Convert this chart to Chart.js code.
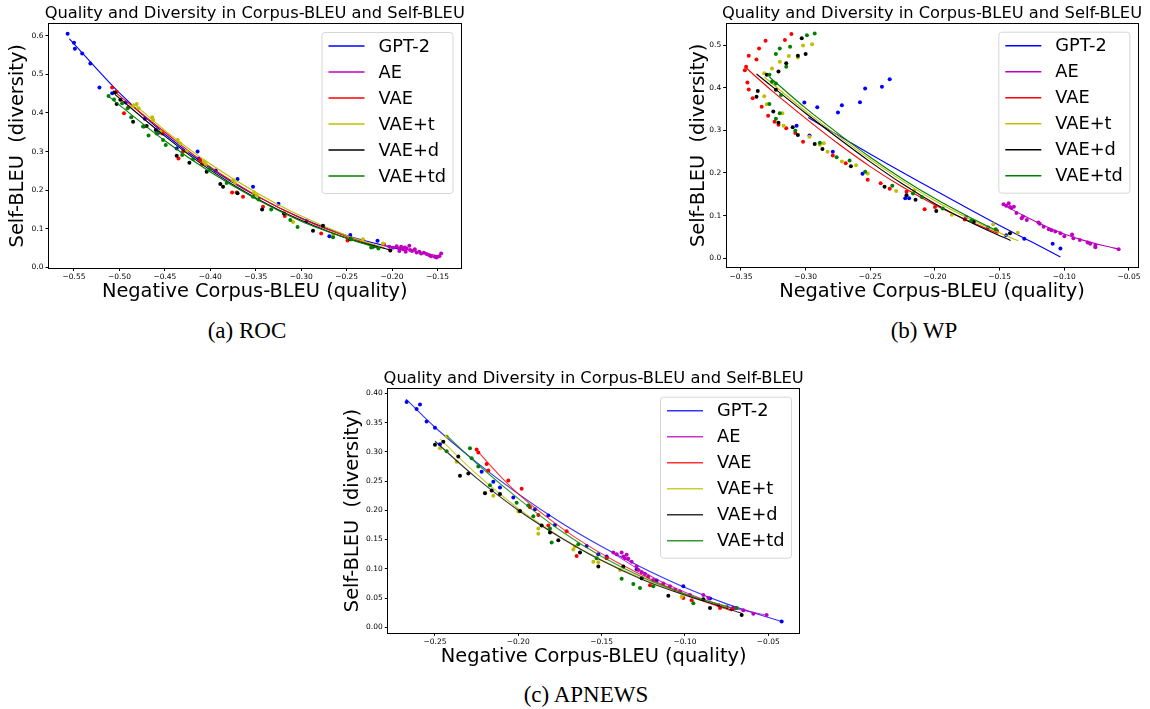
<!DOCTYPE html>
<html lang="en">
<head>
<meta charset="UTF-8">
<title>Quality and Diversity in Corpus-BLEU and Self-BLEU</title>
<script src="https://cdn.jsdelivr.net/npm/chart.js@4.4.0/dist/chart.umd.min.js"></script>
<style>
  body { margin: 0; width: 1150px; height: 709px; background: #fff; position: relative; overflow: hidden; }
  .panel { position: absolute; }
  .panel canvas { display: block; }
  .cap { position: absolute; font-family: "Liberation Serif", "Times New Roman", serif; font-size: 23px;
         line-height: 23px; transform: translateX(-50%); white-space: nowrap; color: #000; }
</style>
</head>
<body>
<div class="panel" style="left:0;top:0"><canvas id="rocChart" width="470" height="310"></canvas></div>
<div class="panel" style="left:680px;top:0"><canvas id="wpChart" width="465" height="310"></canvas></div>
<div class="panel" style="left:320px;top:360px"><canvas id="apChart" width="490" height="320"></canvas></div>
<div class="cap" style="left:247px;top:319px">(a) ROC</div>
<div class="cap" style="left:924px;top:319px">(b) WP</div>
<div class="cap" style="left:586px;top:683px">(c) APNEWS</div>
<script>
// series + labels
var seriesNames = ['GPT-2', 'AE', 'VAE', 'VAE+t', 'VAE+d', 'VAE+td'];
var seriesColors = ['#0000ff', '#bf00bf', '#ff0000', '#bfbf00', '#000000', '#008000'];
var chartTitle = 'Quality and Diversity in Corpus-BLEU and Self-BLEU';
var xLabel = 'Negative Corpus-BLEU (quality)';
var yLabel = 'Self-BLEU  (diversity)';

// ---- (a) ROC ----
var rocXTicks = [-0.55, -0.50, -0.45, -0.40, -0.35, -0.30, -0.25, -0.20, -0.15];
var rocYTicks = [0.0, 0.1, 0.2, 0.3, 0.4, 0.5, 0.6];
var rocGpt2 = [[-0.557,0.605],[-0.550,0.582],[-0.549,0.566],[-0.541,0.554],[-0.532,0.528],[-0.522,0.466],[-0.508,0.451],[-0.493,0.427],[-0.472,0.385],[-0.457,0.349],[-0.437,0.308],[-0.414,0.300],[-0.413,0.282],[-0.394,0.251],[-0.370,0.229],[-0.353,0.209],[-0.325,0.165],[-0.294,0.120],[-0.269,0.081],[-0.246,0.084],[-0.216,0.069]];
var rocGpt2Fit = [[-0.555,0.592],[-0.50,0.452],[-0.45,0.345],[-0.40,0.257],[-0.35,0.186],[-0.30,0.128],[-0.25,0.083],[-0.20,0.052],[-0.185,0.044]];
var rocAe = [[-0.203,0.054],[-0.199,0.051],[-0.195,0.055],[-0.192,0.049],[-0.190,0.054],[-0.188,0.047],[-0.186,0.052],[-0.184,0.049],[-0.181,0.056],[-0.180,0.045],[-0.178,0.043],[-0.175,0.047],[-0.173,0.039],[-0.170,0.041],[-0.168,0.036],[-0.165,0.038],[-0.162,0.035],[-0.159,0.032],[-0.157,0.029],[-0.153,0.028],[-0.151,0.026],[-0.148,0.029],[-0.146,0.036],[-0.192,0.043],[-0.185,0.041]];
var rocAeFit = [[-0.205,0.056],[-0.19,0.050],[-0.175,0.042],[-0.16,0.035],[-0.146,0.029]];
var rocVae = [[-0.508,0.466],[-0.503,0.455],[-0.495,0.399],[-0.490,0.415],[-0.473,0.365],[-0.453,0.347],[-0.435,0.282],[-0.430,0.300],[-0.411,0.278],[-0.409,0.268],[-0.376,0.194],[-0.371,0.194],[-0.364,0.183],[-0.342,0.157],[-0.318,0.133],[-0.278,0.088],[-0.249,0.070],[-0.209,0.060]];
var rocVaeFit = [[-0.507,0.458],[-0.45,0.350],[-0.40,0.260],[-0.35,0.187],[-0.30,0.127],[-0.25,0.080],[-0.208,0.050]];
var rocVaeT = [[-0.485,0.418],[-0.481,0.423],[-0.479,0.412],[-0.464,0.389],[-0.463,0.382],[-0.455,0.352],[-0.436,0.330],[-0.433,0.321],[-0.426,0.300],[-0.407,0.274],[-0.405,0.268],[-0.375,0.226],[-0.373,0.219],[-0.352,0.194],[-0.349,0.187],[-0.309,0.118],[-0.265,0.084],[-0.232,0.073],[-0.210,0.062]];
var rocVaeTFit = [[-0.485,0.425],[-0.45,0.355],[-0.40,0.268],[-0.35,0.195],[-0.30,0.133],[-0.25,0.083],[-0.21,0.052]];
var rocVaeD = [[-0.505,0.453],[-0.503,0.423],[-0.499,0.434],[-0.485,0.377],[-0.470,0.366],[-0.460,0.356],[-0.437,0.289],[-0.423,0.271],[-0.404,0.248],[-0.389,0.216],[-0.386,0.209],[-0.370,0.192],[-0.343,0.150],[-0.319,0.140],[-0.287,0.095],[-0.276,0.108],[-0.246,0.073],[-0.221,0.054],[-0.202,0.044]];
var rocVaeDFit = [[-0.505,0.448],[-0.45,0.340],[-0.40,0.252],[-0.35,0.180],[-0.30,0.122],[-0.25,0.076],[-0.20,0.044]];
var rocVaeTd = [[-0.512,0.444],[-0.506,0.435],[-0.497,0.425],[-0.491,0.412],[-0.487,0.389],[-0.474,0.365],[-0.468,0.342],[-0.459,0.347],[-0.452,0.330],[-0.449,0.317],[-0.431,0.291],[-0.419,0.280],[-0.400,0.254],[-0.382,0.219],[-0.353,0.183],[-0.347,0.176],[-0.333,0.150],[-0.312,0.123],[-0.304,0.105],[-0.265,0.078],[-0.245,0.073],[-0.223,0.052],[-0.215,0.049]];
var rocVaeTdFit = [[-0.512,0.443],[-0.45,0.328],[-0.40,0.247],[-0.35,0.178],[-0.30,0.120],[-0.25,0.076],[-0.215,0.050]];

// ---- (b) WP ----
var wpXTicks = [-0.35, -0.30, -0.25, -0.20, -0.15, -0.10, -0.05];
var wpYTicks = [0.0, 0.1, 0.2, 0.3, 0.4, 0.5];
var wpGpt2 = [[-0.307,0.311],[-0.301,0.365],[-0.291,0.354],[-0.275,0.342],[-0.272,0.359],[-0.258,0.366],[-0.254,0.398],[-0.241,0.402],[-0.235,0.420],[-0.297,0.288],[-0.279,0.250],[-0.256,0.198],[-0.223,0.141],[-0.220,0.141],[-0.176,0.097],[-0.159,0.072],[-0.145,0.054],[-0.131,0.046],[-0.109,0.034],[-0.103,0.023]];
var wpGpt2Fit = [[-0.298,0.330],[-0.27,0.280],[-0.24,0.227],[-0.21,0.176],[-0.18,0.126],[-0.15,0.077],[-0.125,0.038],[-0.103,0.003]];
var wpAe = [[-0.147,0.127],[-0.145,0.123],[-0.143,0.129],[-0.142,0.120],[-0.141,0.118],[-0.139,0.121],[-0.137,0.106],[-0.133,0.094],[-0.132,0.098],[-0.129,0.090],[-0.120,0.084],[-0.119,0.081],[-0.116,0.074],[-0.112,0.068],[-0.110,0.066],[-0.107,0.063],[-0.103,0.059],[-0.100,0.052],[-0.094,0.056],[-0.093,0.047],[-0.088,0.043],[-0.082,0.037],[-0.080,0.034],[-0.076,0.030],[-0.076,0.026],[-0.058,0.021]];
var wpAeFit = [[-0.147,0.125],[-0.13,0.098],[-0.115,0.076],[-0.10,0.057],[-0.085,0.042],[-0.07,0.030],[-0.057,0.021]];
var wpVae = [[-0.347,0.441],[-0.346,0.449],[-0.344,0.475],[-0.336,0.492],[-0.338,0.466],[-0.331,0.510],[-0.316,0.512],[-0.311,0.526],[-0.345,0.412],[-0.344,0.396],[-0.341,0.375],[-0.334,0.355],[-0.329,0.334],[-0.324,0.320],[-0.321,0.313],[-0.315,0.305],[-0.308,0.294],[-0.302,0.273],[-0.279,0.241],[-0.269,0.223],[-0.252,0.184],[-0.242,0.176],[-0.235,0.163],[-0.222,0.156],[-0.208,0.115],[-0.200,0.120],[-0.177,0.091],[-0.152,0.064]];
var wpVaeFit = [[-0.347,0.449],[-0.325,0.390],[-0.30,0.328],[-0.275,0.269],[-0.25,0.215],[-0.225,0.167],[-0.20,0.125],[-0.175,0.089],[-0.151,0.058]];
var wpVaeT = [[-0.332,0.434],[-0.326,0.445],[-0.320,0.461],[-0.313,0.474],[-0.306,0.471],[-0.302,0.499],[-0.295,0.502],[-0.332,0.380],[-0.330,0.361],[-0.318,0.340],[-0.317,0.311],[-0.297,0.285],[-0.289,0.266],[-0.286,0.270],[-0.283,0.250],[-0.272,0.227],[-0.261,0.218],[-0.252,0.199],[-0.230,0.158],[-0.216,0.159],[-0.187,0.102],[-0.155,0.080],[-0.136,0.060]];
var wpVaeTFit = [[-0.332,0.425],[-0.30,0.345],[-0.275,0.287],[-0.25,0.232],[-0.225,0.181],[-0.20,0.135],[-0.175,0.095],[-0.15,0.060],[-0.1356,0.041]];
var wpVaeD = [[-0.330,0.430],[-0.321,0.438],[-0.315,0.457],[-0.306,0.475],[-0.300,0.479],[-0.303,0.516],[-0.323,0.395],[-0.337,0.392],[-0.338,0.379],[-0.325,0.344],[-0.321,0.318],[-0.310,0.307],[-0.306,0.289],[-0.293,0.268],[-0.287,0.256],[-0.265,0.216],[-0.239,0.168],[-0.222,0.148],[-0.215,0.137],[-0.199,0.111],[-0.170,0.086],[-0.142,0.059]];
var wpVaeDFit = [[-0.338,0.432],[-0.30,0.340],[-0.275,0.282],[-0.25,0.226],[-0.225,0.174],[-0.20,0.128],[-0.175,0.088],[-0.15,0.053],[-0.1415,0.042]];
var wpVaeTd = [[-0.328,0.430],[-0.326,0.414],[-0.323,0.410],[-0.319,0.383],[-0.323,0.479],[-0.320,0.492],[-0.315,0.449],[-0.312,0.496],[-0.299,0.523],[-0.293,0.527],[-0.328,0.362],[-0.320,0.340],[-0.323,0.327],[-0.308,0.299],[-0.289,0.271],[-0.276,0.237],[-0.266,0.229],[-0.254,0.203],[-0.233,0.170],[-0.217,0.152],[-0.210,0.143],[-0.194,0.117],[-0.172,0.088],[-0.153,0.068]];
var wpVaeTdFit = [[-0.328,0.425],[-0.30,0.352],[-0.275,0.293],[-0.25,0.237],[-0.225,0.186],[-0.20,0.140],[-0.175,0.099],[-0.152,0.064]];

// ---- (c) APNEWS ----
var apXTicks = [-0.25, -0.20, -0.15, -0.10, -0.05];
var apYTicks = [0.00, 0.05, 0.10, 0.15, 0.20, 0.25, 0.30, 0.35, 0.40];
var apGpt2 = [[-0.267,0.385],[-0.261,0.373],[-0.259,0.381],[-0.255,0.352],[-0.250,0.341],[-0.247,0.313],[-0.222,0.266],[-0.215,0.249],[-0.211,0.239],[-0.203,0.222],[-0.190,0.202],[-0.182,0.191],[-0.178,0.175],[-0.159,0.139],[-0.152,0.125],[-0.147,0.121],[-0.129,0.099],[-0.117,0.080],[-0.101,0.070],[-0.085,0.049],[-0.071,0.033],[-0.042,0.010]];
var apGpt2Fit = [[-0.2674,0.390],[-0.25,0.342],[-0.225,0.282],[-0.20,0.228],[-0.175,0.180],[-0.15,0.138],[-0.125,0.101],[-0.10,0.068],[-0.075,0.040],[-0.0424,0.010]];
var apAe = [[-0.143,0.128],[-0.141,0.125],[-0.138,0.128],[-0.137,0.121],[-0.136,0.118],[-0.135,0.124],[-0.134,0.117],[-0.132,0.112],[-0.129,0.104],[-0.128,0.098],[-0.126,0.094],[-0.124,0.091],[-0.122,0.087],[-0.119,0.081],[-0.113,0.075],[-0.109,0.070],[-0.106,0.064],[-0.103,0.061],[-0.097,0.055],[-0.089,0.055],[-0.086,0.050],[-0.080,0.038],[-0.075,0.035],[-0.070,0.033],[-0.065,0.029],[-0.059,0.023],[-0.051,0.021]];
var apAeFit = [[-0.144,0.128],[-0.13,0.103],[-0.115,0.079],[-0.10,0.060],[-0.085,0.044],[-0.07,0.032],[-0.051,0.021]];
var apVae = [[-0.225,0.304],[-0.224,0.299],[-0.219,0.279],[-0.218,0.268],[-0.206,0.251],[-0.198,0.237],[-0.193,0.205],[-0.188,0.192],[-0.182,0.174],[-0.171,0.164],[-0.165,0.122],[-0.147,0.118],[-0.121,0.072],[-0.101,0.050],[-0.096,0.046],[-0.079,0.033],[-0.072,0.031]];
var apVaeFit = [[-0.225,0.303],[-0.212,0.262],[-0.20,0.228],[-0.185,0.193],[-0.165,0.152],[-0.14,0.110],[-0.115,0.075],[-0.09,0.046],[-0.072,0.028]];
var apVaeT = [[-0.247,0.306],[-0.243,0.326],[-0.237,0.283],[-0.220,0.230],[-0.215,0.225],[-0.200,0.198],[-0.188,0.169],[-0.188,0.160],[-0.167,0.133],[-0.166,0.138],[-0.155,0.112],[-0.152,0.111],[-0.139,0.098],[-0.102,0.052],[-0.076,0.035]];
var apVaeTFit = [[-0.247,0.322],[-0.225,0.262],[-0.20,0.203],[-0.175,0.155],[-0.15,0.115],[-0.125,0.083],[-0.10,0.057],[-0.075,0.036]];
var apVaeD = [[-0.250,0.312],[-0.245,0.317],[-0.236,0.292],[-0.235,0.259],[-0.230,0.263],[-0.220,0.229],[-0.216,0.234],[-0.211,0.228],[-0.199,0.199],[-0.186,0.174],[-0.181,0.162],[-0.176,0.149],[-0.163,0.128],[-0.152,0.104],[-0.137,0.104],[-0.126,0.084],[-0.110,0.054],[-0.089,0.048],[-0.085,0.033],[-0.066,0.021]];
var apVaeDFit = [[-0.25,0.318],[-0.225,0.255],[-0.20,0.200],[-0.175,0.154],[-0.15,0.114],[-0.125,0.081],[-0.10,0.055],[-0.08,0.037],[-0.066,0.024]];
var apVaeTd = [[-0.243,0.301],[-0.229,0.306],[-0.228,0.289],[-0.224,0.275],[-0.217,0.243],[-0.201,0.213],[-0.194,0.208],[-0.191,0.190],[-0.181,0.169],[-0.180,0.145],[-0.164,0.142],[-0.153,0.118],[-0.138,0.083],[-0.131,0.074],[-0.127,0.067],[-0.119,0.070],[-0.095,0.041],[-0.069,0.033]];
var apVaeTdFit = [[-0.243,0.328],[-0.225,0.280],[-0.20,0.220],[-0.175,0.166],[-0.15,0.121],[-0.125,0.085],[-0.10,0.057],[-0.072,0.033]];

Chart.defaults.font.family = '"DejaVu Sans", sans-serif';
Chart.defaults.color = '#000';

function xy(arr) {
    return arr.map(function (p) { return {x: p[0], y: p[1]}; });
}

function fmt(v, d) {
    var s = Math.abs(v).toFixed(d);
    return (v < -1e-9 ? '\u2212' : '') + s;
}

function withAlpha(hex, a) {
    if (a >= 1) return hex;
    var n = parseInt(hex.slice(1), 16);
    return 'rgba(' + (n >> 16) + ',' + ((n >> 8) & 255) + ',' + (n & 255) + ',' + a + ')';
}

// frame, title and legend drawn over the plot, matplotlib style
var framePlugin = {
    id: 'frame',
    afterDraw: function (chart) {
        var ctx = chart.ctx, a = chart.chartArea;
        var alpha = chart.options.plugins.frame.alpha;
        ctx.save();
        ctx.strokeStyle = '#000';
        ctx.lineWidth = 1;
        ctx.strokeRect(Math.round(a.left) + 0.5, Math.round(a.top) + 0.5,
            Math.round(a.right - a.left) - 1, Math.round(a.bottom - a.top) - 1);

        ctx.fillStyle = '#000';
        ctx.font = '16.3px "DejaVu Sans"';
        ctx.textAlign = 'center';
        ctx.textBaseline = 'alphabetic';
        ctx.fillText(chartTitle, (a.left + a.right) / 2, a.top - 5);

        var w = 131, h = 161;
        var bx = a.right - 9 - w, by = a.top + 9;
        ctx.beginPath();
        ctx.roundRect(bx + 0.5, by + 0.5, w, h, 3);
        ctx.fillStyle = 'rgba(255,255,255,0.8)';
        ctx.fill();
        ctx.strokeStyle = '#d6d6d6';
        ctx.stroke();
        ctx.font = '17.8px "DejaVu Sans"';
        ctx.textAlign = 'left';
        ctx.textBaseline = 'middle';
        seriesNames.forEach(function (name, i) {
            var cy = by + 14 + 26 * i;
            ctx.strokeStyle = withAlpha(seriesColors[i], alpha);
            ctx.lineWidth = 1.5;
            ctx.beginPath();
            ctx.moveTo(bx + 7, cy);
            ctx.lineTo(bx + 43, cy);
            ctx.stroke();
            ctx.fillStyle = '#000';
            ctx.fillText(name, bx + 57, cy + 1);
        });
        ctx.restore();
    }
};

function makeChart(id, pts, fits, cfg) {
    var canvas = document.getElementById(id);
    var W = canvas.width, H = canvas.height, A = cfg.area;
    var datasets = [];
    for (var i = seriesNames.length - 1; i >= 0; i--) {
        datasets.push({
            label: seriesNames[i],
            data: xy(fits[i]),
            showLine: true,
            borderColor: withAlpha(seriesColors[i], cfg.lineAlpha),
            borderWidth: 1.1,
            pointRadius: 0,
            cubicInterpolationMode: 'monotone',
            fill: false
        });
        datasets.push({
            label: seriesNames[i] + ' points',
            data: xy(pts[i]),
            showLine: false,
            pointRadius: 2,
            pointBackgroundColor: seriesColors[i],
            pointBorderWidth: 0
        });
    }
    return new Chart(canvas, {
        type: 'scatter',
        data: {datasets: datasets},
        options: {
            responsive: false,
            animation: false,
            events: [],
            layout: {padding: {left: 0, top: A.t, right: W - A.r, bottom: 0}},
            plugins: {
                legend: {display: false},
                tooltip: {enabled: false},
                frame: {alpha: cfg.lineAlpha}
            },
            scales: {
                x: {
                    type: 'linear',
                    position: 'bottom',
                    min: cfg.xMin,
                    max: cfg.xMax,
                    afterFit: function (s) { s.height = H - A.b; },
                    afterBuildTicks: function (s) { s.ticks = cfg.xTicks.map(function (v) { return {value: v}; }); },
                    grid: {drawOnChartArea: false, drawTicks: true, tickLength: 2.5, color: '#000'},
                    border: {display: false},
                    ticks: {autoSkip: false, maxRotation: 0, padding: 2, color: '#000', font: {size: 7.5},
                        callback: function (v) { return fmt(v, cfg.xDec); }},
                    title: {display: true, text: xLabel, color: '#000', font: {size: 19.4},
                        padding: {top: 0, bottom: cfg.xTitlePad}}
                },
                y: {
                    type: 'linear',
                    position: 'left',
                    min: cfg.yMin,
                    max: cfg.yMax,
                    afterFit: function (s) { s.width = A.l; },
                    afterBuildTicks: function (s) { s.ticks = cfg.yTicks.map(function (v) { return {value: v}; }); },
                    grid: {drawOnChartArea: false, drawTicks: true, tickLength: 2.5, color: '#000'},
                    border: {display: false},
                    ticks: {autoSkip: false, padding: 2, color: '#000', font: {size: 7.5},
                        callback: function (v) { return fmt(v, cfg.yDec); }},
                    title: {display: true, text: yLabel, color: '#000', font: {size: 19.4},
                        padding: {top: cfg.yTitlePad, bottom: 0}}
                }
            }
        },
        plugins: [framePlugin]
    });
}

makeChart('rocChart',
    [rocGpt2, rocAe, rocVae, rocVaeT, rocVaeD, rocVaeTd],
    [rocGpt2Fit, rocAeFit, rocVaeFit, rocVaeTFit, rocVaeDFit, rocVaeTdFit],
    {area: {l: 48, t: 23, r: 461.5, b: 268.5}, xMin: -0.5786, xMax: -0.1236, yMin: -0.0026, yMax: 0.6329,
     xTicks: rocXTicks, yTicks: rocYTicks, xDec: 2, yDec: 1, xTitlePad: 6, yTitlePad: 6.8, lineAlpha: 1});

makeChart('wpChart',
    [wpGpt2, wpAe, wpVae, wpVaeT, wpVaeD, wpVaeTd],
    [wpGpt2Fit, wpAeFit, wpVaeFit, wpVaeTFit, wpVaeDFit, wpVaeTdFit],
    {area: {l: 45.7, t: 22.7, r: 458.3, b: 268}, xMin: -0.3618, xMax: -0.0428, yMin: -0.0227, yMax: 0.5523,
     xTicks: wpXTicks, yTicks: wpYTicks, xDec: 2, yDec: 1, xTitlePad: 6, yTitlePad: 7.3, lineAlpha: 1});

makeChart('apChart',
    [apGpt2, apAe, apVae, apVaeT, apVaeD, apVaeTd],
    [apGpt2Fit, apAeFit, apVaeFit, apVaeTFit, apVaeDFit, apVaeTdFit],
    {area: {l: 67.3, t: 27.7, r: 480, b: 273.3}, xMin: -0.2786, xMax: -0.031, yMin: -0.0103, yMax: 0.4096,
     xTicks: apXTicks, yTicks: apYTicks, xDec: 2, yDec: 2, xTitlePad: 11.6, yTitlePad: 21.8, lineAlpha: 0.8});
</script>
</body>
</html>
